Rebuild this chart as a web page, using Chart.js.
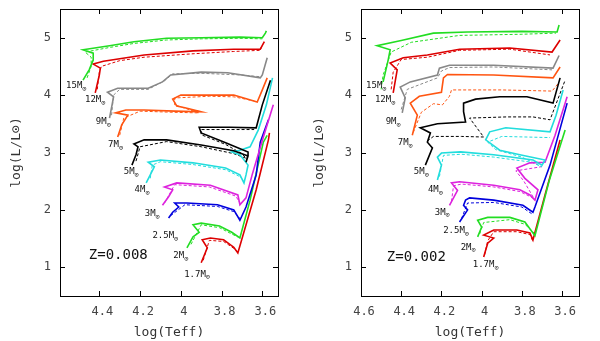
<!DOCTYPE html>
<html>
<head>
<meta charset="utf-8">
<script src="https://cdn.jsdelivr.net/npm/chart.js@4.4.1/dist/chart.umd.min.js"></script>
<style>
  body { margin: 0; background: #fff; }
  #wrap { position: relative; width: 600px; height: 341px; }
  canvas { position: absolute; top: 0; }
</style>
</head>
<body>
<div id="wrap">
  <canvas id="left" width="300" height="341" style="left:0"></canvas>
  <canvas id="right" width="300" height="341" style="left:300px"></canvas>
</div>
<script>
// masses and colours, heaviest first
const masses = ['15', '12', '9', '7', '5', '4', '3', '2.5', '2', '1.7'];
const colours = ['#22dd22', '#dd0000', '#888888', '#ff5511', '#000000', '#22dddd', '#dd22dd', '#0000dd', '#22dd22', '#dd0000'];
const xTicks = [4.6, 4.4, 4.2, 4, 3.8, 3.6];
const yTicks = [1, 2, 3, 4, 5];

// Z=0.008 tracks [logTeff, logL], solid
const a15 = [[4.48,4.26],[4.45,4.44],[4.43,4.61],[4.43,4.73],[4.48,4.79],[4.35,4.86],[4.23,4.93],[4.07,4.99],[3.90,5.00],[3.71,5.01],[3.60,5.00],[3.585,5.08],[3.58,5.12]];
const a12 = [[4.42,4.04],[4.40,4.35],[4.395,4.47],[4.43,4.54],[4.38,4.59],[4.18,4.70],[3.94,4.77],[3.74,4.80],[3.61,4.80],[3.59,4.93]];
const a9 = [[4.35,3.60],[4.33,3.97],[4.36,4.05],[4.31,4.12],[4.16,4.12],[4.09,4.23],[4.05,4.35],[3.90,4.40],[3.77,4.39],[3.61,4.30],[3.60,4.35],[3.576,4.65]];
const a7 = [[4.31,3.27],[4.29,3.48],[4.26,3.65],[4.32,3.69],[4.27,3.74],[4.18,3.74],[4.03,3.72],[3.90,3.71],[3.98,3.78],[4.02,3.81],[4.04,3.93],[4.00,4.00],[3.86,4.00],[3.74,4.00],[3.625,3.88],[3.60,4.09],[3.576,4.30]];
const a5 = [[4.24,2.78],[4.22,2.96],[4.21,3.10],[4.23,3.15],[4.18,3.22],[4.07,3.22],[3.90,3.13],[3.74,3.03],[3.67,2.94],[3.68,2.83],[3.67,2.96],[3.67,3.01],[3.78,3.17],[3.90,3.34],[3.91,3.44],[3.76,3.44],[3.63,3.43],[3.60,3.83],[3.56,4.26]];
const a4 = [[4.17,2.47],[4.15,2.61],[4.13,2.75],[4.16,2.83],[4.10,2.87],[3.94,2.82],[3.78,2.73],[3.71,2.61],[3.69,2.47],[3.68,2.61],[3.67,2.78],[3.71,2.96],[3.75,3.01],[3.71,3.04],[3.66,3.10],[3.62,3.39],[3.58,3.83],[3.55,4.30]];
const a3 = [[4.09,2.08],[4.06,2.23],[4.04,2.35],[4.08,2.40],[4.02,2.47],[3.855,2.43],[3.72,2.26],[3.71,2.09],[3.68,2.21],[3.65,2.61],[3.60,3.21],[3.546,3.83]];
const a25 = [[4.06,1.86],[4.04,1.96],[4.01,2.05],[4.03,2.12],[3.97,2.12],[3.82,2.09],[3.74,2.00],[3.71,1.82],[3.68,2.05],[3.63,2.61],[3.61,3.18],[3.57,3.57]];
const a2 = [[3.97,1.34],[3.94,1.53],[3.91,1.61],[3.94,1.74],[3.90,1.77],[3.81,1.72],[3.75,1.61],[3.71,1.51],[3.66,2.17],[3.595,3.18],[3.576,3.30]];
const a17 = [[3.90,1.08],[3.87,1.34],[3.895,1.48],[3.855,1.51],[3.79,1.48],[3.74,1.35],[3.72,1.25],[3.63,2.35],[3.57,3.22],[3.565,3.34]];

// Z=0.008, dashed companions
const a15d = [[4.46,4.30],[4.44,4.50],[4.44,4.66],[4.47,4.75],[4.35,4.83],[4.23,4.90],[4.07,4.96],[3.90,4.98],[3.71,4.99],[3.60,4.98]];
const a12d = [[4.41,4.10],[4.40,4.40],[4.39,4.50],[4.30,4.60],[4.18,4.66],[3.94,4.72],[3.74,4.76],[3.61,4.78],[3.60,4.88]];
const a9d = [[4.34,3.65],[4.33,4.00],[4.30,4.10],[4.16,4.10],[4.08,4.25],[4.04,4.37],[3.90,4.38],[3.70,4.35],[3.61,4.32]];
const a7d = [[4.30,3.30],[4.28,3.60],[4.20,3.72],[4.03,3.70],[3.91,3.69],[3.97,3.76],[4.03,3.83],[4.03,3.95],[3.86,3.98],[3.74,3.97],[3.64,3.90]];
const a5d = [[4.22,2.85],[4.20,3.10],[4.07,3.19],[3.90,3.10],[3.74,2.98],[3.68,2.90],[3.70,2.98],[3.78,3.14],[3.90,3.31],[3.90,3.40],[3.76,3.40],[3.64,3.40]];
const a4d = [[4.15,2.55],[4.14,2.78],[4.10,2.84],[3.94,2.79],[3.78,2.70],[3.71,2.58],[3.69,2.50]];
const a3d = [[4.08,2.12],[4.03,2.44],[3.86,2.40],[3.73,2.24],[3.71,2.12]];
const a25d = [[4.05,1.90],[3.98,2.09],[3.82,2.06],[3.74,1.97],[3.71,1.85]];
const a2d = [[3.95,1.40],[3.90,1.74],[3.81,1.69],[3.75,1.58],[3.72,1.53]];
const a17d = [[3.89,1.12],[3.86,1.47],[3.79,1.45],[3.74,1.33],[3.72,1.27]];

// Z=0.002 tracks, solid
const b15 = [[4.49,4.23],[4.465,4.61],[4.455,4.79],[4.52,4.86],[4.40,4.95],[4.24,5.08],[4.07,5.10],[3.80,5.11],[3.625,5.10],[3.615,5.22]];
const b12 = [[4.44,4.04],[4.42,4.44],[4.455,4.56],[4.39,4.65],[4.27,4.70],[4.11,4.80],[3.86,4.82],[3.65,4.75],[3.61,4.96]];
const b9 = [[4.395,3.69],[4.38,3.95],[4.405,4.14],[4.355,4.23],[4.22,4.35],[4.21,4.47],[4.16,4.52],[3.94,4.52],[3.645,4.47],[3.615,4.69]];
const b7 = [[4.345,3.30],[4.32,3.65],[4.355,3.86],[4.31,3.98],[4.20,4.05],[4.19,4.30],[4.17,4.36],[3.94,4.35],[3.645,4.30],[3.61,4.49]];
const b5 = [[4.28,2.78],[4.245,3.08],[4.27,3.18],[4.255,3.34],[4.305,3.43],[4.22,3.50],[4.08,3.53],[4.09,3.71],[4.09,3.86],[4.03,3.93],[3.91,3.97],[3.775,3.97],[3.645,3.86],[3.61,4.30]];
const b4 = [[4.22,2.52],[4.20,2.78],[4.22,2.92],[4.20,2.99],[4.105,3.01],[3.94,2.96],[3.745,2.87],[3.70,2.78],[3.685,2.87],[3.81,2.96],[3.91,3.04],[3.98,3.22],[3.96,3.36],[3.88,3.43],[3.66,3.36],[3.63,3.65],[3.595,4.09]];
const b3 = [[4.16,2.08],[4.12,2.34],[4.15,2.47],[4.11,2.49],[3.94,2.43],[3.81,2.35],[3.76,2.26],[3.735,2.17],[3.72,2.35],[3.785,2.55],[3.825,2.73],[3.76,2.82],[3.685,2.83],[3.635,3.30],[3.575,3.97]];
const b25 = [[4.11,1.79],[4.07,2.00],[4.09,2.08],[4.08,2.17],[4.06,2.21],[3.94,2.17],[3.795,2.08],[3.745,1.96],[3.735,2.05],[3.66,2.78],[3.575,3.86]];
const b2 = [[4.02,1.53],[4.00,1.70],[4.02,1.82],[3.97,1.87],[3.86,1.87],[3.785,1.79],[3.735,1.55],[3.665,2.50],[3.585,3.39]];
const b17 = [[3.99,1.18],[3.97,1.42],[3.94,1.51],[3.99,1.56],[3.94,1.65],[3.825,1.65],[3.76,1.60],[3.745,1.475],[3.685,2.26],[3.61,3.22]];

// Z=0.002, dashed companions
const b15d = [[4.50,4.10],[4.49,4.35],[4.47,4.55],[4.45,4.75],[4.35,4.92],[4.11,5.04],[3.80,5.06],[3.63,5.08]];
const b12d = [[4.45,4.10],[4.44,4.40],[4.40,4.62],[4.27,4.66],[4.11,4.78],[3.86,4.80],[3.66,4.70]];
const b9d = [[4.40,3.75],[4.37,4.10],[4.22,4.30],[4.20,4.42],[4.16,4.48],[3.94,4.49],[3.65,4.44]];
const b7d = [[4.34,3.35],[4.30,3.70],[4.24,3.85],[4.195,3.83],[4.16,3.98],[4.15,4.09],[3.90,4.09],[3.65,4.07],[3.62,4.20]];
const b5d = [[4.27,3.20],[4.24,3.28],[4.10,3.28],[3.99,3.27],[4.06,3.60],[3.875,3.62],[3.745,3.62],[3.66,3.57],[3.585,4.26]];
const b4d = [[4.21,2.58],[4.19,2.95],[4.10,2.97],[3.94,2.92],[3.75,2.83],[3.70,2.75],[3.80,2.92],[3.93,3.05],[3.97,3.18],[3.90,3.28],[3.66,3.26]];
const b3d = [[4.15,2.15],[4.14,2.42],[4.10,2.45],[3.94,2.40],[3.81,2.32],[3.74,2.20],[3.79,2.50],[3.83,2.68],[3.69,2.76]];
const b25d = [[4.10,1.85],[4.07,2.12],[3.94,2.13],[3.80,2.05],[3.75,1.93]];
const b2d = [[4.01,1.58],[3.99,1.78],[3.86,1.83],[3.785,1.75],[3.74,1.60]];
const b17d = [[3.985,1.22],[3.97,1.46],[3.94,1.62],[3.825,1.62],[3.76,1.57],[3.745,1.45]];

// where the mass labels sit [logTeff, logL]
const aLabelAt = [[4.513,4.16],[4.42,3.915],[4.38,3.53],[4.32,3.13],[4.243,2.66],[4.19,2.35],[4.14,1.93],[4.076,1.545],[4.00,1.20],[3.92,0.88]];
const bLabelAt = [[4.524,4.16],[4.48,3.915],[4.44,3.53],[4.38,3.17],[4.30,2.66],[4.23,2.35],[4.196,1.96],[4.127,1.63],[4.067,1.35],[3.98,1.04]];

const MONO = '"DejaVu Sans Mono", monospace';

function makeDatasets(solid, dashed) {
  const toXY = arr => arr.map(p => ({ x: p[0], y: p[1] }));
  const sets = [];
  solid.forEach((trk, i) => sets.push({
    data: toXY(trk), borderColor: colours[i], borderWidth: 1.6,
    showLine: true, pointRadius: 0, tension: 0
  }));
  dashed.forEach((trk, i) => sets.push({
    data: toXY(trk), borderColor: colours[i], borderWidth: 1,
    borderDash: [3, 2], showLine: true, pointRadius: 0, tension: 0
  }));
  return sets;
}

function framePlugin(labelAt, zText, zAt) {
  return {
    id: 'frame',
    afterDraw(chart) {
      const { ctx, chartArea: a, scales: { x, y } } = chart;
      ctx.save();
      ctx.strokeStyle = '#000';
      ctx.lineWidth = 1;
      ctx.strokeRect(a.left + 0.5, a.top + 0.5, a.right - a.left, a.bottom - a.top);
      ctx.beginPath();
      x.ticks.forEach(t => {
        const px = Math.round(x.getPixelForValue(t.value)) + 0.5;
        ctx.moveTo(px, a.bottom); ctx.lineTo(px, a.bottom - 5);
        ctx.moveTo(px, a.top); ctx.lineTo(px, a.top + 5);
      });
      y.ticks.forEach(t => {
        const py = Math.round(y.getPixelForValue(t.value)) + 0.5;
        ctx.moveTo(a.left, py); ctx.lineTo(a.left + 5, py);
        ctx.moveTo(a.right, py); ctx.lineTo(a.right - 5, py);
      });
      ctx.stroke();

      // mass labels, M with a sun subscript
      ctx.fillStyle = '#111';
      ctx.textBaseline = 'middle';
      masses.forEach((m, i) => {
        const px = x.getPixelForValue(labelAt[i][0]);
        const py = y.getPixelForValue(labelAt[i][1]);
        ctx.font = '9px ' + MONO;
        const main = m + 'M';
        const w1 = ctx.measureText(main).width;
        ctx.font = '7px ' + MONO;
        const w2 = ctx.measureText('\u2299').width;
        const x0 = px - (w1 + w2) / 2;
        ctx.font = '9px ' + MONO;
        ctx.fillText(main, x0, py);
        ctx.font = '7px ' + MONO;
        ctx.fillText('\u2299', x0 + w1, py + 3);
      });

      ctx.font = '14px ' + MONO;
      ctx.textAlign = 'center';
      ctx.fillText(zText, x.getPixelForValue(zAt[0]), y.getPixelForValue(zAt[1]));
      ctx.restore();
    }
  };
}

function makeChart(id, solid, dashed, xMin, xMax, yWidth, padRight, titlePad, labelAt, zText, zAt) {
  return new Chart(document.getElementById(id), {
    type: 'scatter',
    data: { datasets: makeDatasets(solid, dashed) },
    options: {
      responsive: false,
      animation: false,
      devicePixelRatio: 1,
      layout: { padding: { top: 9, right: padRight, left: 0, bottom: 0 } },
      plugins: { legend: { display: false }, tooltip: { enabled: false } },
      scales: {
        x: {
          type: 'linear', reverse: true, min: xMin, max: xMax,
          afterBuildTicks: s => { s.ticks = xTicks.filter(v => v >= xMin - 1e-6 && v <= xMax + 1e-6).map(v => ({ value: v })); },
          afterFit: s => { s.height = 45; s.paddingLeft = 0; s.paddingRight = 0; },
          grid: { display: false, drawTicks: false },
          border: { display: false },
          ticks: {
            color: '#444', font: { family: MONO, size: 12 }, padding: 9, labelOffset: 3,
            maxRotation: 0, autoSkip: false,
            callback: v => String(Math.round(v * 10) / 10)
          },
          title: { display: true, text: 'log(Teff)', color: '#333', font: { family: MONO, size: 13 }, padding: { top: 0, bottom: 1 } }
        },
        y: {
          type: 'linear', min: 0.5, max: 5.5,
          afterBuildTicks: s => { s.ticks = yTicks.map(v => ({ value: v })); },
          afterFit: s => { s.width = yWidth; s.paddingTop = 0; s.paddingBottom = 0; },
          grid: { display: false, drawTicks: false },
          border: { display: false },
          ticks: { color: '#444', font: { family: MONO, size: 12 }, padding: 9 },
          title: { display: true, text: 'log(L/L\u2299)', color: '#333', font: { family: MONO, size: 13 }, padding: { top: titlePad, bottom: 0 } }
        }
      }
    },
    plugins: [framePlugin(labelAt, zText, zAt)]
  });
}

makeChart('left',
  [a15, a12, a9, a7, a5, a4, a3, a25, a2, a17],
  [a15d, a12d, a9d, a7d, a5d, a4d, a3d, a25d, a2d, a17d],
  3.523, 4.593, 60, 22, 9, aLabelAt, 'Z=0.008', [4.307, 1.215]);

makeChart('right',
  [b15, b12, b9, b7, b5, b4, b3, b25, b2, b17],
  [b15d, b12d, b9d, b7d, b5d, b4d, b3d, b25d, b2d, b17d],
  3.516, 4.6, 61, 21, 12, bLabelAt, 'Z=0.002', [4.325, 1.18]);
</script>
</body>
</html>
